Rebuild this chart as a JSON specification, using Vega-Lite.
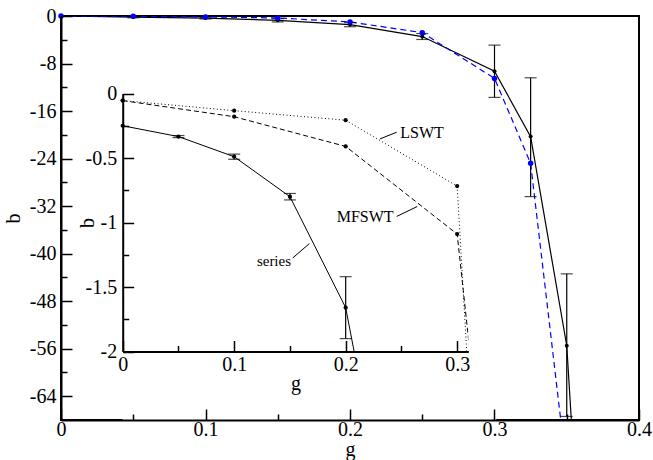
{
  "$schema": "https://vega.github.io/schema/vega-lite/v6.json",
  "width": 578,
  "height": 404,
  "autosize": "none",
  "padding": {"left": 61, "top": 16, "right": 14, "bottom": 40},
  "background": "white",
  "view": {"stroke": "black", "strokeWidth": 2},
  "config": {
    "font": "Liberation Serif",
    "axis": {
      "domainWidth": 2, "domainColor": "black", "tickColor": "black", "tickWidth": 1.5,
      "labelFont": "Liberation Serif", "labelFontSize": 20, "labelColor": "black",
      "titleFont": "Liberation Serif", "titleFontSize": 20, "titleFontWeight": "normal", "titleColor": "black",
      "grid": false, "zindex": 1, "labelFlush": false, "labelOverlap": false
    }
  },
  "datasets": {
    "main": [
      {"s": "qmc", "g": 0, "b": 0},
      {"s": "qmc", "g": 0.05, "b": -0.18, "lo": -0.3, "hi": -0.06},
      {"s": "qmc", "g": 0.1, "b": -0.35, "lo": -0.5, "hi": -0.2},
      {"s": "qmc", "g": 0.15, "b": -0.72, "lo": -1.0, "hi": -0.45},
      {"s": "qmc", "g": 0.2, "b": -1.45, "lo": -1.8, "hi": -1.1},
      {"s": "qmc", "g": 0.25, "b": -3.46, "lo": -3.95, "hi": -2.95},
      {"s": "qmc", "g": 0.3, "b": -9.3, "lo": -13.7, "hi": -4.9},
      {"s": "qmc", "g": 0.325, "b": -20.3, "lo": -30.4, "hi": -10.4},
      {"s": "qmc", "g": 0.35, "b": -55.5, "lo": -67.4, "hi": -43.4},
      {"s": "qmc", "g": 0.375, "b": -154},
      {"s": "mf", "g": 0, "b": 0},
      {"s": "mf", "g": 0.05, "b": -0.05},
      {"s": "mf", "g": 0.1, "b": -0.15},
      {"s": "mf", "g": 0.15, "b": -0.33},
      {"s": "mf", "g": 0.2, "b": -1.0},
      {"s": "mf", "g": 0.25, "b": -2.8},
      {"s": "mf", "g": 0.3, "b": -10.5},
      {"s": "mf", "g": 0.325, "b": -24.8},
      {"s": "mf", "g": 0.35, "b": -76.6}
    ],
    "inset": [
      {"s": "series", "g": 0, "b": -0.25},
      {"s": "series", "g": 0.05, "b": -0.334, "lo": -0.342, "hi": -0.326},
      {"s": "series", "g": 0.1, "b": -0.49, "lo": -0.51, "hi": -0.47},
      {"s": "series", "g": 0.15, "b": -0.8, "lo": -0.825, "hi": -0.775},
      {"s": "series", "g": 0.2, "b": -1.66, "lo": -1.9, "hi": -1.42},
      {"s": "series", "g": 0.25, "b": -3.9},
      {"s": "LSWT", "g": 0, "b": -0.055},
      {"s": "LSWT", "g": 0.1, "b": -0.133},
      {"s": "LSWT", "g": 0.2, "b": -0.207},
      {"s": "LSWT", "g": 0.3, "b": -0.718},
      {"s": "LSWT", "g": 0.325, "b": -4.45},
      {"s": "MFSWT", "g": 0, "b": -0.055},
      {"s": "MFSWT", "g": 0.1, "b": -0.18},
      {"s": "MFSWT", "g": 0.2, "b": -0.41},
      {"s": "MFSWT", "g": 0.3, "b": -1.09},
      {"s": "MFSWT", "g": 0.325, "b": -3.08}
    ],
    "covers": [
      {"g": 0, "g2": 0.335, "b": -2.7, "b2": -2},
      {"g": 0.31, "g2": 0.335, "b": -2.7, "b2": -0.5}
    ],
    "leaders": [
      {"g": 0.2308, "b": -0.352, "g2": 0.2458, "b2": -0.3},
      {"g": 0.2458, "b": -0.953, "g2": 0.2642, "b2": -0.876},
      {"g": 0.1525, "b": -1.275, "g2": 0.1674, "b2": -1.164}
    ],
    "labels": [
      {"label": "LSWT", "g": 0.249, "b": -0.31},
      {"label": "MFSWT", "g": 0.243, "b": -0.957},
      {"label": "series", "g": 0.151, "b": -1.3}
    ]
  },
  "layer": [
    {
      "data": {"name": "main"},
      "encoding": {
        "x": {"field": "g", "type": "quantitative",
          "scale": {"domain": [0, 0.4], "nice": false, "zero": false},
          "axis": {"orient": "bottom", "zindex": 1,
            "values": [0, 0.05, 0.1, 0.15, 0.2, 0.25, 0.3, 0.35, 0.4],
            "labelExpr": "abs(datum.value*10-round(datum.value*10))<1e-6 ? ''+datum.value : ''",
            "tickSize": {"condition": {"test": "abs(datum.value*10-round(datum.value*10))<1e-6", "value": -11}, "value": -6},
            "labelPadding": 10, "title": "g", "titlePadding": -5}},
        "y": {"field": "b", "type": "quantitative",
          "scale": {"domain": [-68, 0], "nice": false, "zero": false},
          "axis": {"orient": "left", "zindex": 1,
            "values": [0, -4, -8, -12, -16, -20, -24, -28, -32, -36, -40, -44, -48, -52, -56, -60, -64],
            "labelExpr": "datum.value % 8 == 0 ? ''+datum.value : ''",
            "tickSize": {"condition": {"test": "datum.value % 8 == 0", "value": -11}, "value": -6},
            "labelPadding": 16, "title": "b", "titlePadding": 6}}
      },
      "layer": [
        {"transform": [{"filter": "datum.s == 'qmc'"}],
         "mark": {"type": "line", "color": "black", "strokeWidth": 1.2, "clip": true}},
        {"transform": [{"filter": "datum.s == 'mf'"}],
         "mark": {"type": "line", "color": "#0000ff", "strokeWidth": 1.2, "strokeDash": [6, 4], "clip": true}},
        {"transform": [{"filter": "isValid(datum.lo)"}],
         "mark": {"type": "rule", "color": "black", "strokeWidth": 1.2, "clip": true},
         "encoding": {"y": {"field": "lo", "type": "quantitative"}, "y2": {"field": "hi"}}},
        {"transform": [{"filter": "isValid(datum.lo)"}],
         "mark": {"type": "tick", "orient": "horizontal", "color": "black", "size": 12, "thickness": 1.2, "clip": true},
         "encoding": {"y": {"field": "lo", "type": "quantitative"}}},
        {"transform": [{"filter": "isValid(datum.hi)"}],
         "mark": {"type": "tick", "orient": "horizontal", "color": "black", "size": 12, "thickness": 1.2, "clip": true},
         "encoding": {"y": {"field": "hi", "type": "quantitative"}}},
        {"transform": [{"filter": "datum.s == 'qmc' && datum.b >= -68"}],
         "mark": {"type": "point", "filled": true, "color": "black", "size": 16, "opacity": 1}},
        {"transform": [{"filter": "datum.s == 'mf' && datum.b >= -68"}],
         "mark": {"type": "point", "filled": true, "color": "#0000ff", "size": 30, "opacity": 1}}
      ]
    },
    {
      "encoding": {
        "x": {"field": "g", "type": "quantitative",
          "scale": {"domain": [0, 0.31], "range": [61.7, 407.3], "nice": false, "zero": false},
          "axis": {"orient": "bottom", "offset": -68.5, "zindex": 1,
            "values": [0, 0.05, 0.1, 0.15, 0.2, 0.25, 0.3],
            "labelExpr": "abs(datum.value*10-round(datum.value*10))<1e-6 ? ''+datum.value : ''",
            "tickSize": {"condition": {"test": "abs(datum.value*10-round(datum.value*10))<1e-6", "value": -11}, "value": -6},
            "labelPadding": 14, "title": "g", "titlePadding": -6}},
        "y": {"field": "b", "type": "quantitative",
          "scale": {"domain": [-2, 0], "range": [335.5, 77.5], "nice": false, "zero": false},
          "axis": {"orient": "left", "offset": -61.7, "zindex": 1,
            "values": [0, -0.25, -0.5, -0.75, -1, -1.25, -1.5, -1.75, -2],
            "labelExpr": "datum.value % 0.5 == 0 ? ''+datum.value : ''",
            "tickSize": {"condition": {"test": "datum.value % 0.5 == 0", "value": -11}, "value": -6},
            "labelPadding": 17, "title": "b", "titlePadding": -12}}
      },
      "layer": [
        {"data": {"values": [{}]},
         "mark": {"type": "rect", "color": "white", "opacity": 1},
         "encoding": {"x": {"datum": 0, "type": "quantitative"}, "x2": {"datum": 0.31},
                      "y": {"datum": -2, "type": "quantitative"}, "y2": {"datum": 0}}},
        {"data": {"name": "inset"}, "transform": [{"filter": "datum.s == 'series'"}],
         "mark": {"type": "line", "color": "black", "strokeWidth": 1, "clip": true}},
        {"data": {"name": "inset"}, "transform": [{"filter": "datum.s == 'LSWT'"}],
         "mark": {"type": "line", "color": "black", "strokeWidth": 1, "strokeDash": [1, 2.5], "clip": true}},
        {"data": {"name": "inset"}, "transform": [{"filter": "datum.s == 'MFSWT'"}],
         "mark": {"type": "line", "color": "black", "strokeWidth": 1, "strokeDash": [5, 3], "clip": true}},
        {"data": {"name": "inset"}, "transform": [{"filter": "isValid(datum.lo)"}],
         "mark": {"type": "rule", "color": "black", "strokeWidth": 1.2, "clip": true},
         "encoding": {"y": {"field": "lo", "type": "quantitative"}, "y2": {"field": "hi"}}},
        {"data": {"name": "inset"}, "transform": [{"filter": "isValid(datum.lo)"}],
         "mark": {"type": "tick", "orient": "horizontal", "color": "black", "size": 12, "thickness": 1.2, "clip": true},
         "encoding": {"y": {"field": "lo", "type": "quantitative"}}},
        {"data": {"name": "inset"}, "transform": [{"filter": "isValid(datum.hi)"}],
         "mark": {"type": "tick", "orient": "horizontal", "color": "black", "size": 12, "thickness": 1.2, "clip": true},
         "encoding": {"y": {"field": "hi", "type": "quantitative"}}},
        {"data": {"name": "inset"}, "transform": [{"filter": "datum.b >= -2"}],
         "mark": {"type": "point", "filled": true, "color": "black", "size": 18, "opacity": 1}},
        {"data": {"name": "covers"},
         "mark": {"type": "rect", "color": "white", "opacity": 1, "clip": true},
         "encoding": {"x2": {"field": "g2"}, "y2": {"field": "b2"}}},
        {"data": {"values": [{}]},
         "mark": {"type": "rect", "fill": null, "fillOpacity": 0, "stroke": "black", "strokeWidth": 2},
         "encoding": {"x": {"datum": 0, "type": "quantitative"}, "x2": {"datum": 0.31},
                      "y": {"datum": -2, "type": "quantitative"}, "y2": {"datum": 0}}},
        {"data": {"name": "leaders"},
         "mark": {"type": "rule", "color": "black", "strokeWidth": 1},
         "encoding": {"x2": {"field": "g2"}, "y2": {"field": "b2"}}},
        {"data": {"name": "labels"}, "transform": [{"filter": "datum.label == 'LSWT'"}],
         "mark": {"type": "text", "font": "Liberation Serif", "fontSize": 16, "baseline": "middle", "align": "left", "color": "black"},
         "encoding": {"text": {"field": "label"}}},
        {"data": {"name": "labels"}, "transform": [{"filter": "datum.label == 'MFSWT'"}],
         "mark": {"type": "text", "font": "Liberation Serif", "fontSize": 16, "baseline": "middle", "align": "right", "color": "black"},
         "encoding": {"text": {"field": "label"}}},
        {"data": {"name": "labels"}, "transform": [{"filter": "datum.label == 'series'"}],
         "mark": {"type": "text", "font": "Liberation Serif", "fontSize": 15, "baseline": "middle", "color": "black", "align": "right"},
         "encoding": {"text": {"field": "label"}}}
      ]
    }
  ],
  "resolve": {"scale": {"x": "independent", "y": "independent"}, "axis": {"x": "independent", "y": "independent"}}
}
